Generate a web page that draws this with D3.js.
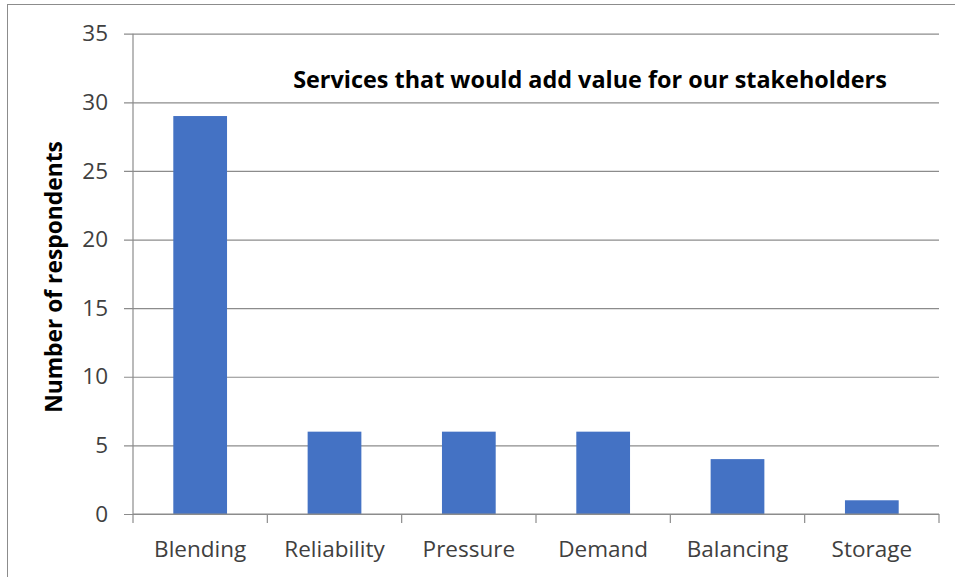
<!DOCTYPE html>
<html>
<head>
<meta charset="utf-8">
<script src="https://cdn.jsdelivr.net/npm/d3@7"></script>
<style>
  html, body { margin: 0; padding: 0; background: #fff; }
  svg { display: block; font-family: "Open Sans", sans-serif; }
</style>
</head>
<body>
<svg id="chart" width="955" height="577"></svg>
<script>
// Survey responses: services that would add value
const categories = ["Blending", "Reliability", "Pressure", "Demand", "Balancing", "Storage"];
const respondents = [29, 6, 6, 6, 4, 1];
const yTicks = [0, 5, 10, 15, 20, 25, 30, 35];
const chartTitle = "Services that would add value for our stakeholders";
const yTitle = "Number of respondents";

const svg = d3.select("#chart");
const plot = { left: 133, right: 939, top: 33.7, bottom: 514 };
const FONT = "'Open Sans', sans-serif";

// outer frame
svg.append("rect")
  .attr("x", 7.5).attr("y", 4.5)
  .attr("width", 1000).attr("height", 1000)
  .attr("fill", "none").attr("stroke", "#8c8c8c").attr("stroke-width", 1);

const x = d3.scaleBand().domain(categories).range([plot.left, plot.right])
  .paddingInner(0.6).paddingOuter(0.3);
const xEdge = d3.scaleBand().domain(categories).range([plot.left, plot.right]).padding(0);
const y = d3.scaleLinear().domain([0, 35]).range([plot.bottom, plot.top]);

// horizontal gridlines + y axis
const yAxis = d3.axisLeft(y).tickValues(yTicks).tickSize(0).tickPadding(0);
const gy = svg.append("g").attr("transform", `translate(${plot.left},0)`).call(yAxis);
gy.select(".domain").remove();
gy.selectAll(".tick line")
  .attr("x1", -9).attr("x2", plot.right - plot.left)
  .attr("stroke", "#8c8c8c").attr("stroke-width", 1.2);
gy.selectAll(".tick text")
  .attr("x", -25)
  .attr("font-size", 22.5).attr("fill", "#404040")
  .attr("font-family", FONT);

// vertical axis line
svg.append("line")
  .attr("x1", plot.left).attr("x2", plot.left)
  .attr("y1", plot.top).attr("y2", plot.bottom)
  .attr("stroke", "#8c8c8c").attr("stroke-width", 1.2);

// bars
svg.append("g").selectAll("rect")
  .data(categories)
  .join("rect")
  .attr("x", d => x(d))
  .attr("width", x.bandwidth())
  .attr("y", (d, i) => y(respondents[i]))
  .attr("height", (d, i) => y(0) - y(respondents[i]))
  .attr("fill", "#4472C4");

// x axis with boundary ticks
const gx = svg.append("g").attr("transform", `translate(0,${plot.bottom})`);
gx.append("line")
  .attr("x1", plot.left).attr("x2", plot.right)
  .attr("stroke", "#8c8c8c").attr("stroke-width", 1.2);
const edges = categories.map(c => xEdge(c)).concat([plot.right]);
gx.selectAll(".edge")
  .data(edges)
  .join("line")
  .attr("class", "edge")
  .attr("x1", d => d).attr("x2", d => d)
  .attr("y1", 0).attr("y2", 9)
  .attr("stroke", "#8c8c8c").attr("stroke-width", 1.2);
gx.selectAll(".lbl")
  .data(categories)
  .join("text")
  .attr("class", "lbl")
  .attr("x", d => x(d) + x.bandwidth() / 2)
  .attr("y", 42.5)
  .attr("text-anchor", "middle")
  .attr("font-size", 22.5).attr("fill", "#404040")
  .text(d => d);

// chart title
svg.append("text")
  .attr("x", 590).attr("y", 88)
  .attr("text-anchor", "middle")
  .attr("font-size", 23.4).attr("font-weight", "bold").attr("fill", "#000")
  .text(chartTitle);

// y axis title
svg.append("text")
  .attr("transform", "translate(62,277) rotate(-90)")
  .attr("text-anchor", "middle")
  .attr("font-size", 22.8).attr("font-weight", "bold").attr("fill", "#000")
  .text(yTitle);
</script>
</body>
</html>
